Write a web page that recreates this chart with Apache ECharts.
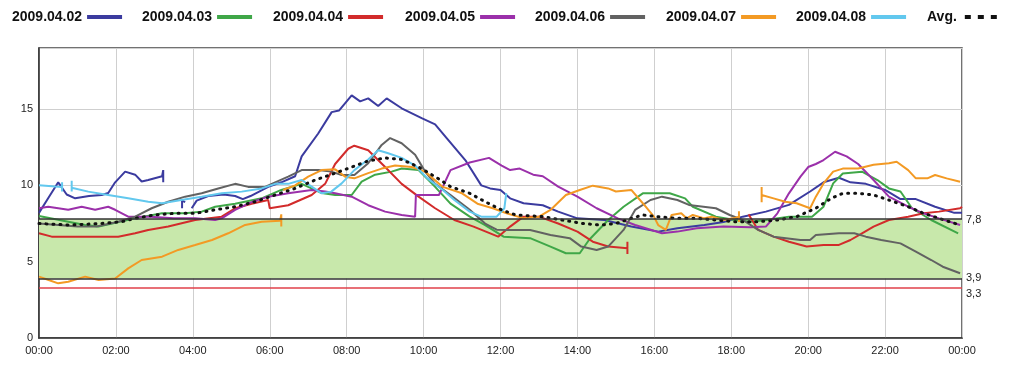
<!DOCTYPE html>
<html><head><meta charset="utf-8">
<script src="https://cdn.jsdelivr.net/npm/echarts@6/dist/echarts.min.js"></script>
<style>html,body{margin:0;padding:0;background:#fff}#c{width:1024px;height:373px}</style>
</head><body><div id="c"></div>
<script>
// Time in hours (0-24), glucose value. Each series: list of segments (gaps between).
const legendNames = ['2009.04.02','2009.04.03','2009.04.04','2009.04.05','2009.04.06','2009.04.07','2009.04.08','Avg.'];
const xTicks = [0,2,4,6,8,10,12,14,16,18,20,22,24];
const refBand = [3.9, 7.8];
const refLow = 3.3;
const refLabels = ['7,8','3,9','3,3'];

const d0402 = [
  [[0,8.2],[0.25,9.2],[0.5,10.2],[0.72,9.4],[0.94,9.15],[1.3,9.3],[1.63,9.37],[1.8,9.5],[1.98,10.2],[2.24,10.9],[2.5,10.7],[2.67,10.25],[2.84,10.35],[3.2,10.6],[3.23,10.6],[3.23,11.0],[3.23,10.2]],
  [[3.72,8.5],[3.72,9.0],[3.8,8.9]],
  [[3.97,8.5],[4.1,9.0],[4.4,9.3],[4.8,9.4],[5.1,9.3],[5.3,9.1],[5.5,9.3],[5.96,9.9],[6.3,10.2],[6.66,10.6],[6.83,11.9],[7.26,13.4],[7.61,14.8],[7.8,14.9],[8.13,15.9],[8.35,15.5],[8.56,15.7],[8.82,15.2],[9.04,15.7],[9.43,15.05],[9.95,14.4],[10.3,14.0],[10.6,13.1],[11.1,11.6],[11.5,10.0],[11.73,9.8],[12.0,9.7],[12.25,9.15],[12.6,8.83],[13.1,8.7],[13.5,8.28],[14.0,7.84],[14.7,7.73],[15.4,7.3],[16.1,6.97],[16.6,7.19],[17.3,7.4],[17.8,7.6],[18.3,7.95],[18.9,8.28],[19.5,8.72],[20.05,9.6],[20.4,10.2],[20.8,10.5],[21.1,10.2],[21.5,10.1],[22.0,9.7],[22.4,9.1],[22.8,9.1],[23.3,8.6],[23.8,8.2],[24,8.2]]
];
const d0403 = [
  [[0,8.0],[0.76,7.62],[1.2,7.4],[1.55,7.3],[1.9,7.5],[2.5,7.84],[3.2,8.17],[3.8,8.17],[4.23,8.28],[4.58,8.6],[5.1,8.8],[5.79,9.15],[6.3,9.7],[6.83,10.1],[7.0,9.9],[7.35,9.5],[7.7,9.37],[8.13,9.37],[8.39,10.24],[8.74,10.7],[9.17,10.9],[9.43,11.1],[9.87,11.0],[10.3,9.9],[10.7,8.8],[11.2,7.95],[11.6,7.4],[12.08,6.64],[12.77,6.54],[13.3,5.99],[13.7,5.55],[14.06,5.55],[14.3,6.42],[14.8,7.73],[15.2,8.6],[15.7,9.48],[16.4,9.48],[16.8,9.15],[17.0,8.6],[17.6,7.95],[18.1,7.73],[18.5,7.62],[18.9,7.73],[19.5,7.95],[20.1,7.95],[20.4,8.6],[20.65,10.13],[20.9,10.78],[21.4,10.9],[21.8,10.35],[22.1,9.8],[22.4,9.6],[22.7,8.5],[23.2,7.73],[23.9,6.86]]
];
const d0404 = [
  [[0,6.86],[0.33,6.64],[2.06,6.64],[2.5,6.86],[2.84,7.08],[3.36,7.3],[4.06,7.73],[4.75,7.95],[5.1,8.5],[5.53,8.8],[5.96,9.04],[6.0,8.5],[6.48,8.7],[7.09,9.37],[7.44,10.1],[7.7,11.4],[8.04,12.4],[8.2,12.6],[8.56,12.3],[9.0,11.2],[9.43,10.1],[9.87,9.26],[10.3,8.5],[10.8,7.73],[11.3,7.3],[11.94,6.64],[12.25,7.3],[12.6,7.95],[13.0,7.95],[13.5,7.5],[14.0,6.97],[14.4,6.31],[14.8,5.99],[15.3,5.88],[15.3,6.3],[15.3,5.5]],
  [[18.45,8.1],[18.5,7.9],[18.7,7.08],[19.1,6.64],[19.5,6.31],[19.96,5.99],[20.4,6.1],[20.8,6.1],[21.1,6.42],[21.4,6.86],[21.7,7.3],[22.1,7.73],[22.6,7.95],[23.0,8.17],[23.4,8.28],[23.95,8.5],[24,8.6]]
];
const d0405 = [
  [[0,8.5],[0.24,8.6],[0.76,8.4],[1.11,8.6],[1.46,8.4],[1.8,8.6],[1.98,8.4],[2.32,7.95],[2.9,7.95],[3.5,7.84],[4.06,7.84],[4.58,7.73],[4.75,7.84],[5.1,8.4],[5.53,8.9],[5.96,9.26],[6.48,9.48],[7.09,9.7],[7.44,9.6],[7.7,9.48],[8.13,9.26],[8.56,8.7],[9.0,8.28],[9.43,8.06],[9.78,7.95],[9.8,9.37],[10.4,9.37],[10.7,11.0],[11.2,11.5],[11.7,11.8],[12.03,11.3],[12.25,11.0],[12.5,11.1],[12.85,10.7],[13.1,10.6],[13.5,9.92],[14.0,9.26],[14.5,8.5],[15.05,7.84],[15.5,7.4],[16.2,6.86],[16.6,6.97],[17.1,7.19],[17.8,7.3],[18.5,7.25],[18.9,7.3],[19.2,8.17],[19.5,9.48],[19.8,10.57],[20.0,11.2],[20.2,11.4],[20.4,11.66],[20.7,12.2],[21.0,11.9],[21.3,11.4],[21.7,10.35],[22.1,9.26],[22.6,8.6],[23.0,8.17],[23.4,7.84],[23.95,7.4]]
];
const d0406 = [
  [[0,7.5],[0.5,7.4],[1.0,7.3],[1.5,7.3],[2.06,7.62],[2.5,7.95],[2.93,8.5],[3.36,8.93],[3.8,9.26],[4.23,9.48],[4.66,9.8],[5.1,10.1],[5.44,9.9],[5.88,9.9],[6.14,10.2],[6.48,10.57],[6.83,11.0],[7.26,11.0],[7.6,10.9],[7.87,10.68],[8.2,10.68],[8.56,11.45],[8.91,12.65],[9.13,13.1],[9.43,12.76],[9.78,12.0],[10.04,10.9],[10.3,10.1],[10.7,9.37],[11.2,8.4],[11.6,7.5],[11.9,7.1],[12.16,7.08],[12.77,7.08],[13.3,6.75],[13.8,6.54],[14.1,5.99],[14.5,5.77],[14.8,5.99],[15.2,7.08],[15.5,8.39],[15.9,9.04],[16.2,9.26],[16.6,9.04],[16.9,8.72],[17.6,8.5],[17.96,8.06],[18.3,7.73],[18.7,7.08],[19.1,6.64],[19.8,6.42],[20.05,6.42],[20.2,6.75],[20.8,6.86],[21.2,6.86],[21.5,6.64],[21.9,6.42],[22.4,6.2],[22.8,5.66],[23.2,5.11],[23.5,4.67],[23.95,4.24]]
];
const d0407 = [
  [[0,4.02],[0.25,3.8],[0.5,3.58],[0.76,3.69],[1.2,4.02],[1.55,3.8],[1.98,3.9],[2.32,4.56],[2.67,5.11],[3.2,5.33],[3.62,5.77],[4.06,6.09],[4.5,6.42],[4.92,6.86],[5.36,7.41],[5.79,7.62],[6.27,7.68],[6.3,7.68],[6.3,8.1],[6.3,7.3]],
  [[6.35,9.7],[6.66,10.0],[7.0,10.57],[7.35,11.0],[7.7,11.05],[7.96,10.57],[8.2,10.46],[8.56,10.8],[8.91,11.1],[9.26,11.3],[9.69,11.2],[10.04,10.9],[10.5,9.9],[11.0,9.48],[11.4,8.8],[11.8,8.5],[12.16,8.17],[12.6,7.84],[13.0,7.95],[13.3,8.39],[13.7,9.37],[14.06,9.7],[14.4,9.98],[14.8,9.8],[15.0,9.6],[15.4,9.7],[15.7,8.83],[15.99,7.95],[16.1,7.4],[16.3,7.08],[16.45,8.06],[16.7,8.17],[16.84,7.84],[17.0,8.06],[17.3,7.84],[17.5,7.95],[17.8,7.73],[18.05,7.84],[18.2,7.95],[18.2,8.3],[18.2,7.6]],
  [[18.79,9.9],[18.79,8.9],[18.79,9.37],[19.1,9.15],[19.4,8.93],[19.7,8.83],[20.05,8.5],[20.2,9.26],[20.4,10.13],[20.65,10.9],[20.9,11.1],[21.3,11.1],[21.7,11.35],[22.1,11.45],[22.3,11.55],[22.6,11.0],[22.8,10.46],[23.1,10.46],[23.3,10.68],[23.6,10.46],[23.95,10.24]]
];
const d0408 = [
  [[0,10.0],[0.42,9.92],[0.6,9.9],[0.6,10.2],[0.6,9.6]],
  [[0.85,10.3],[0.85,9.6],[0.85,9.85],[1.28,9.59],[1.8,9.37],[2.32,9.15],[2.84,8.93],[3.2,8.83],[3.7,9.04],[4.23,9.26],[4.75,9.48],[5.27,9.59],[5.79,9.8],[6.14,10.1],[6.48,10.1],[6.83,10.35],[7.09,9.92],[7.35,9.48],[7.6,9.59],[7.87,10.13],[8.2,11.0],[8.56,11.7],[8.82,12.3],[9.08,12.1],[9.43,11.8],[9.78,11.3],[10.1,10.46],[10.5,9.7],[10.8,9.04],[11.2,8.28],[11.5,7.95],[11.9,7.95],[12.1,8.5],[12.15,9.5]]
];
const dAvg = [
  [[0,7.5],[0.8,7.4],[1.6,7.5],[2.15,7.62],[2.5,7.84],[3.0,8.06],[3.54,8.17],[4.06,8.17],[4.58,8.4],[5.1,8.6],[5.62,8.93],[6.14,9.37],[6.66,9.8],[7.18,10.35],[7.7,10.8],[8.13,11.2],[8.56,11.6],[8.99,11.8],[9.43,11.7],[9.87,11.2],[10.3,10.57],[10.7,9.92],[11.2,9.48],[11.6,8.93],[12.03,8.39],[12.4,8.06],[13.1,7.95],[13.6,7.73],[14.15,7.5],[14.6,7.4],[15.0,7.5],[15.4,7.84],[15.7,8.06],[16.06,7.95],[16.6,7.84],[17.1,7.84],[17.6,7.73],[18.1,7.62],[18.7,7.62],[19.2,7.73],[19.7,7.95],[20.2,8.5],[20.6,9.15],[20.9,9.48],[21.3,9.48],[21.7,9.37],[22.1,9.04],[22.6,8.6],[23.0,8.17],[23.4,7.84],[23.95,7.4]]
];

const allData = [d0402,d0403,d0404,d0405,d0406,d0407,d0408,dAvg];
const colors = ['#3b3b9f','#3fa748','#d22b2b','#9b30aa','#626262','#f39a24','#62c8ee','#111111'];
const legendLeft = [7,137,268,400,530,661,791,922];

function joinSegs(segs){
  const out=[];
  segs.forEach((s,i)=>{ if(i>0) out.push([s[0][0],'-']); s.forEach(p=>out.push(p)); });
  return out;
}
const pad=n=>(n<10?'0':'')+n;

const series = allData.map((segs,i)=>{
  const isAvg = i===7;
  return {
    name: legendNames[i], type:'line', data: joinSegs(segs), showSymbol:false, symbol:'none',
    connectNulls:false, z: isAvg?4:3, animation:false,
    lineStyle: isAvg ? {color:colors[i], width:3, type:[1,6], cap:'round'} : {color:colors[i], width:2},
    itemStyle:{color:colors[i]}
  };
});
series.unshift({
  name:'ref', type:'line', data:[], z:1, animation:false, silent:true,
  markArea:{silent:true, itemStyle:{color:'#c8e8ab'}, data:[[{yAxis:refBand[0]},{yAxis:refBand[1]}]]},
  markLine:{silent:true, symbol:'none', animation:false,
    data:[
      {yAxis:refBand[1], lineStyle:{color:'#333',width:1.5,type:'solid'}, label:{formatter:refLabels[0], offset:[0,1]}},
      {yAxis:refBand[0], lineStyle:{color:'#333',width:1.5,type:'solid'}, label:{formatter:refLabels[1], offset:[0,-1]}},
      {yAxis:refLow, lineStyle:{color:'#e0404a',width:1.5,type:'solid'}, label:{formatter:refLabels[2], offset:[0,6]}}
    ],
    label:{position:'end', distance:4, color:'#222', fontSize:11, fontFamily:'Liberation Sans, Arial, sans-serif'}
  }
});

const dashIcon = 'path://M0 0h6v4h-6z M13 0h6v4h-6z M26 0h6v4h-6z';
const legends = legendNames.map((n,i)=>({
  data:[n], left:legendLeft[i], top:5, align:'right', itemWidth: i===7?38:35, itemHeight:4, itemGap:0,
  icon: i===7 ? dashIcon : 'rect',
  itemStyle:{color:colors[i], borderWidth:0},
  textStyle:{fontSize:14, fontWeight:'bold', color:'#111', fontFamily:"'Liberation Sans',Arial,sans-serif"}
}));

const chart = echarts.init(document.getElementById('c'), null, {renderer:'canvas'});
chart.setOption({
  animation:false,
  backgroundColor:'#fff',
  legend: legends,
  grid:{left:39, right:62, top:48, bottom:35, show:true, borderColor:'#444', borderWidth:1.5, backgroundColor:'transparent'},
  xAxis:{type:'value', min:xTicks[0], max:xTicks[xTicks.length-1], interval:2,
    axisLine:{show:true, lineStyle:{color:'#333', width:1.5}}, axisTick:{show:false},
    splitLine:{show:true, lineStyle:{color:'#cfcfcf', width:1}},
    axisLabel:{color:'#222', fontSize:11, margin:7, fontFamily:'Liberation Sans, Arial, sans-serif', formatter:v=>pad(v%24)+':00'}},
  yAxis:{type:'value', min:0, max:19, interval:5,
    axisLine:{show:true, lineStyle:{color:'#333', width:1.5}}, axisTick:{show:false},
    splitLine:{show:true, lineStyle:{color:'#cfcfcf', width:1}},
    axisLabel:{color:'#222', fontSize:11, margin:6, showMaxLabel:false, fontFamily:'Liberation Sans, Arial, sans-serif'}},
  series: series
});
</script></body></html>
